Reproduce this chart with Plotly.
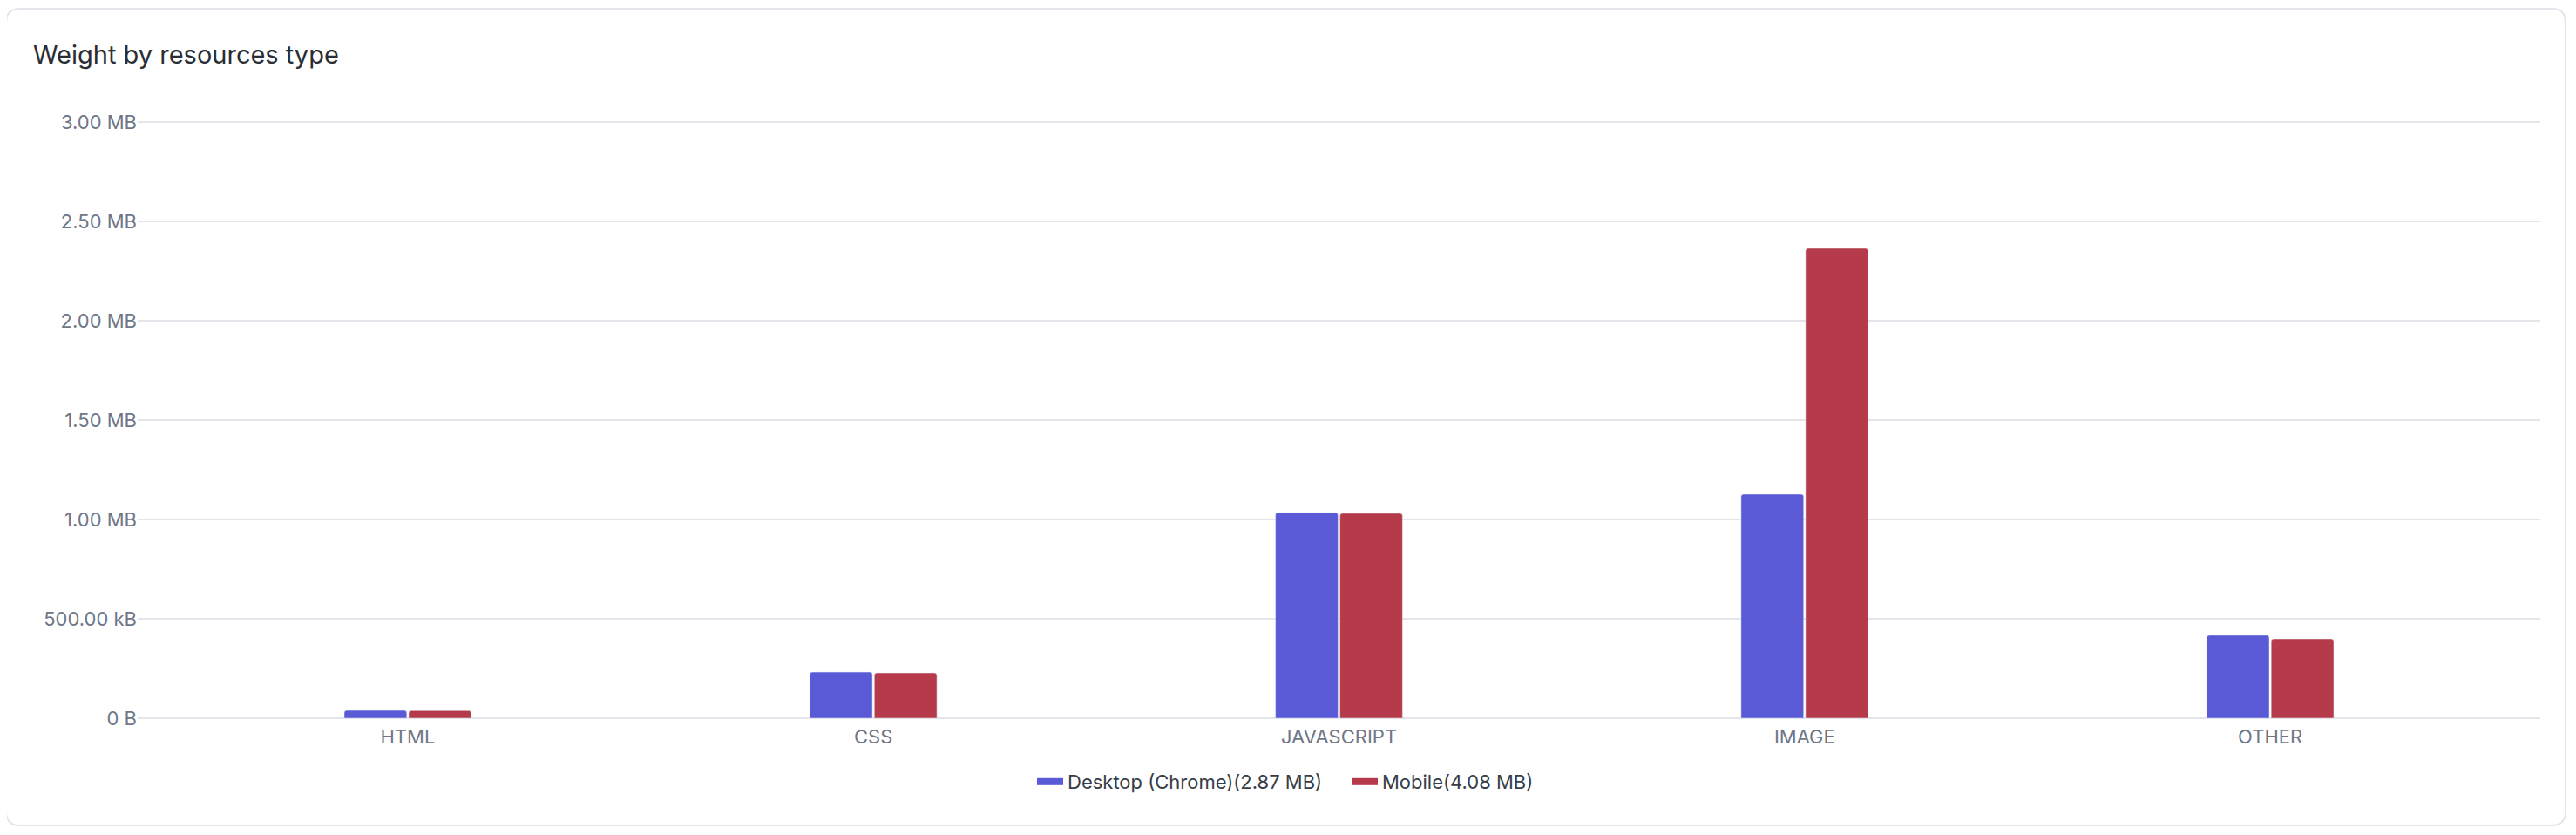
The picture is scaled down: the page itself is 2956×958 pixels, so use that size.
import plotly.graph_objects as go

categories = ['HTML', 'CSS', 'JAVASCRIPT', 'IMAGE', 'OTHER']
desktop_mb = [0.039, 0.232, 1.035, 1.127, 0.417]
mobile_mb = [0.038, 0.228, 1.031, 2.364, 0.399]
desktop_name = 'Desktop (Chrome)(2.87 MB)'
mobile_name = 'Mobile(4.08 MB)'
tick_vals = [0, 0.5, 1.0, 1.5, 2.0, 2.5, 3.0]
tick_text = ['0 B', '500.00 kB', '1.00 MB', '1.50 MB', '2.00 MB', '2.50 MB', '3.00 MB']

# page is drawn with the default 8px body margin, so work in page pixels
OFF = 8
W, H = 2956 - 2 * OFF, 958 - 2 * OFF
# plot area in page pixels
X0, X1 = 158, 2915
Y_TOP, Y_ZERO = 140, 824
EXTRA = 2  # px beyond 0 / 3 MB so the edge grid lines are kept
ymax = 3.0
mb_px = (Y_ZERO - Y_TOP) / ymax
yr = [-EXTRA / mb_px, ymax + EXTRA / mb_px]

L = X0 - OFF
R = W - (X1 - OFF)
T = Y_TOP - EXTRA - OFF
B = H - (Y_ZERO + EXTRA - OFF)
pw, ph = W - L - R, H - T - B

blue = '#5A5AD6'
red = '#B53B4A'
gray = '#6E7687'


def px(x, y):
    # page pixel position -> paper coordinates
    return (x - X0) / pw, (Y_ZERO + EXTRA - y) / ph


def card_path(x0, y0, x1, y1, r):
    pts = [
        ('M', [(x0 + r, y0)]),
        ('L', [(x1 - r, y0)]),
        ('Q', [(x1, y0), (x1, y0 + r)]),
        ('L', [(x1, y1 - r)]),
        ('Q', [(x1, y1), (x1 - r, y1)]),
        ('L', [(x0 + r, y1)]),
        ('Q', [(x0, y1), (x0, y1 - r)]),
        ('L', [(x0, y0 + r)]),
        ('Q', [(x0, y0), (x0 + r, y0)]),
    ]
    out = []
    for cmd, coords in pts:
        s = ' '.join('%.5f,%.5f' % px(a, b) for a, b in coords)
        out.append(cmd + ' ' + s)
    return ' '.join(out) + ' Z'


fig = go.Figure()

fig.add_trace(go.Bar(x=categories, y=desktop_mb, name=desktop_name,
                     marker=dict(color=blue), showlegend=False))
fig.add_trace(go.Bar(x=categories, y=mobile_mb, name=mobile_name,
                     marker=dict(color=red), showlegend=False))

# legend entries drawn as short thick lines (pill look)
fig.add_trace(go.Scatter(x=[None], y=[None], mode='lines', name=desktop_name,
                         line=dict(color=blue, width=8)))
fig.add_trace(go.Scatter(x=[None], y=[None], mode='lines', name=mobile_name,
                         line=dict(color=red, width=8)))

lx, ly = px(1185, 897)

fig.update_layout(
    width=W, height=H, autosize=False,
    margin=dict(l=L, r=R, t=T, b=B, pad=0),
    paper_bgcolor='white',
    plot_bgcolor='white',
    font=dict(family='Inter, Noto Sans, sans-serif', size=22, color=gray),
    title=dict(text='Weight by resources type', x=(38 - OFF) / W, xanchor='left',
               y=1 - (63 - OFF) / H, yanchor='middle', xref='container', yref='container',
               font=dict(size=29, color='#2A2E34')),
    barmode='group',
    bargap=0.723,
    bargroupgap=0.03,
    barcornerradius=3,
    xaxis=dict(
        range=[-0.58, 4.58],
        showgrid=False,
        zeroline=False,
        showline=False,
        tickfont=dict(size=22, color=gray),
        ticks='',
        ticklabelstandoff=4,
        fixedrange=True,
    ),
    yaxis=dict(
        range=yr,
        tickvals=tick_vals,
        ticktext=tick_text,
        showgrid=True,
        gridcolor='#E3E5EA',
        gridwidth=1.5,
        zeroline=False,
        showline=False,
        ticks='',
        tickfont=dict(size=22, color=gray),
        fixedrange=True,
    ),
    legend=dict(
        orientation='h',
        x=lx, xanchor='left',
        y=ly, yanchor='middle',
        font=dict(size=22, color='#373D47'),
        bgcolor='rgba(0,0,0,0)',
        itemwidth=30,
        entrywidth=316,
    ),
    shapes=[dict(
        type='path', xref='paper', yref='paper', layer='below',
        path=card_path(7, 10, 2944, 947, 16),
        line=dict(color='#E3E5EA', width=2),
        fillcolor='rgba(0,0,0,0)',
    )],
)

fig.write_html('out.html')
